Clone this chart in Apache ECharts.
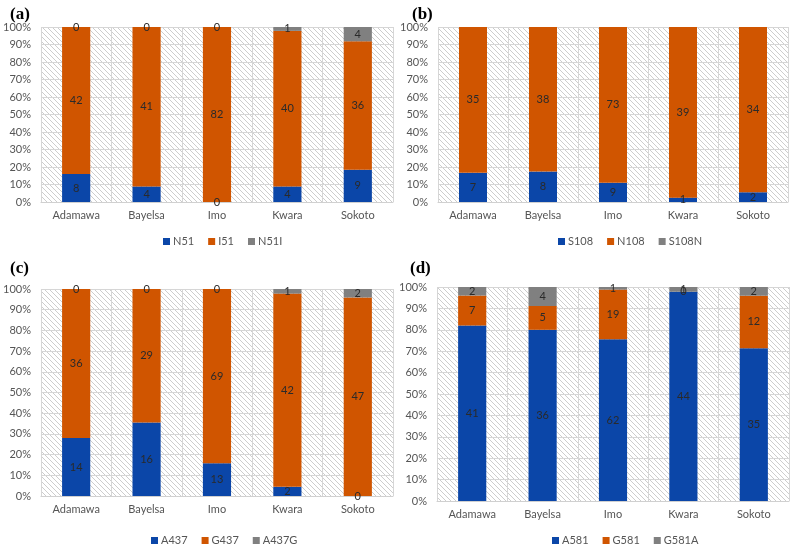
<!DOCTYPE html>
<html><head><meta charset="utf-8">
<script src="https://cdn.jsdelivr.net/npm/echarts@6/dist/echarts.min.js"></script>
<style>html,body{margin:0;padding:0;background:#fff}#c{width:795px;height:548px}</style>
</head><body><div id="c"></div>
<script>
const categories = ['Adamawa', 'Bayelsa', 'Imo', 'Kwara', 'Sokoto'];
// (a) pfdhfr codon 51
const N51  = [8, 4, 0, 4, 9];
const I51  = [42, 41, 82, 40, 36];
const N51I = [0, 0, 0, 1, 4];
// (b) pfdhfr codon 108
const S108  = [7, 8, 9, 1, 2];
const N108  = [35, 38, 73, 39, 34];
const S108N = [0, 0, 0, 0, 0];
// (c) pfdhps codon 437
const A437  = [14, 16, 13, 2, 0];
const G437  = [36, 29, 69, 42, 47];
const A437G = [0, 0, 0, 1, 2];
// (d) pfdhps codon 581
const A581  = [41, 36, 62, 44, 35];
const G581  = [7, 5, 19, 0, 12];
const G581A = [2, 4, 1, 1, 2];

const colors = ['#0B46A8', '#D05500', '#808080'];
const font = 'Lato, "Open Sans", sans-serif';

// hatch pattern
const pc = document.createElement('canvas');
pc.width = 5; pc.height = 5;
const g = pc.getContext('2d');
g.fillStyle = '#ffffff'; g.fillRect(0, 0, 5, 5);
g.strokeStyle = '#cdcdcd'; g.lineWidth = 1;
g.beginPath(); g.moveTo(-1, -1); g.lineTo(6, 6); g.stroke();
g.beginPath(); g.moveTo(-1, 4); g.lineTo(1, 6); g.stroke();
g.beginPath(); g.moveTo(4, -1); g.lineTo(6, 1); g.stroke();

const panels = [
  {title: '(a)', tl: 5, tt: 1, names: ['N51', 'I51', 'N51I'], vals: [N51, I51, N51I], hide: [false, false, false],
   grid: {left: 39, top: 27, width: 354, height: 175}, ll: 158, lt: 231},
  {title: '(b)', tl: 407, tt: 1, names: ['S108', 'N108', 'S108N'], vals: [S108, N108, S108N], hide: [false, false, true],
   grid: {left: 438, top: 27, width: 350, height: 175}, ll: 553, lt: 231},
  {title: '(c)', tl: 5, tt: 255, names: ['A437', 'G437', 'A437G'], vals: [A437, G437, A437G], hide: [false, false, false],
   grid: {left: 39, top: 289, width: 354, height: 207}, ll: 146, lt: 530},
  {title: '(d)', tl: 405, tt: 255, names: ['A581', 'G581', 'G581A'], vals: [A581, G581, G581A], hide: [false, false, false],
   grid: {left: 437, top: 287, width: 352, height: 214}, ll: 547, lt: 530}
];

const option = {
  animation: false,
  backgroundColor: '#fff',
  title: [], grid: [], xAxis: [], yAxis: [], legend: [], series: []
};

panels.forEach((p, i) => {
  option.title.push({text: p.title, left: p.tl, top: p.tt,
    textStyle: {fontFamily: '"Liberation Serif", serif', fontWeight: 'bold', fontSize: 17, color: '#000'}});
  option.grid.push(Object.assign({show: true, borderWidth: 0, backgroundColor: {image: pc, repeat: 'repeat'}}, p.grid));
  option.xAxis.push({type: 'category', gridIndex: i, data: categories,
    axisLine: {lineStyle: {color: '#d0d0d0'}}, axisTick: {show: false},
    splitLine: {show: true, lineStyle: {color: '#d6d6d6', width: 1}},
    axisLabel: {fontFamily: font, fontSize: 11, color: '#555', margin: 8}});
  option.yAxis.push({type: 'value', gridIndex: i, min: 0, max: 100, interval: 10,
    axisLine: {show: false}, axisTick: {show: false},
    splitLine: {lineStyle: {color: '#d6d6d6', width: 1}},
    axisLabel: {formatter: '{value}%', fontFamily: font, fontSize: 11, color: '#555', margin: 10}});
  option.legend.push({data: p.names, left: p.ll, top: p.lt, itemWidth: 7, itemHeight: 7, itemGap: 14, icon: 'rect',
    textStyle: {fontFamily: font, fontSize: 11, color: '#555', padding: [0, 0, 0, -2]}});
  const totals = categories.map((c, k) => p.vals.reduce((s, arr) => s + arr[k], 0));
  p.vals.forEach((arr, j) => {
    option.series.push({
      name: p.names[j], type: 'bar', stack: 's' + i, xAxisIndex: i, yAxisIndex: i,
      barWidth: '40%', itemStyle: {color: colors[j]},
      data: arr.map((v, k) => ({value: v / totals[k] * 100, count: v})),
      label: {show: !p.hide[j], position: 'inside', formatter: q => String(q.data.count),
        fontFamily: font, fontSize: 11, color: '#2a2a2a'}
    });
  });
});

const chart = echarts.init(document.getElementById('c'), null, {renderer: 'canvas'});
chart.setOption(option);
</script></body></html>
